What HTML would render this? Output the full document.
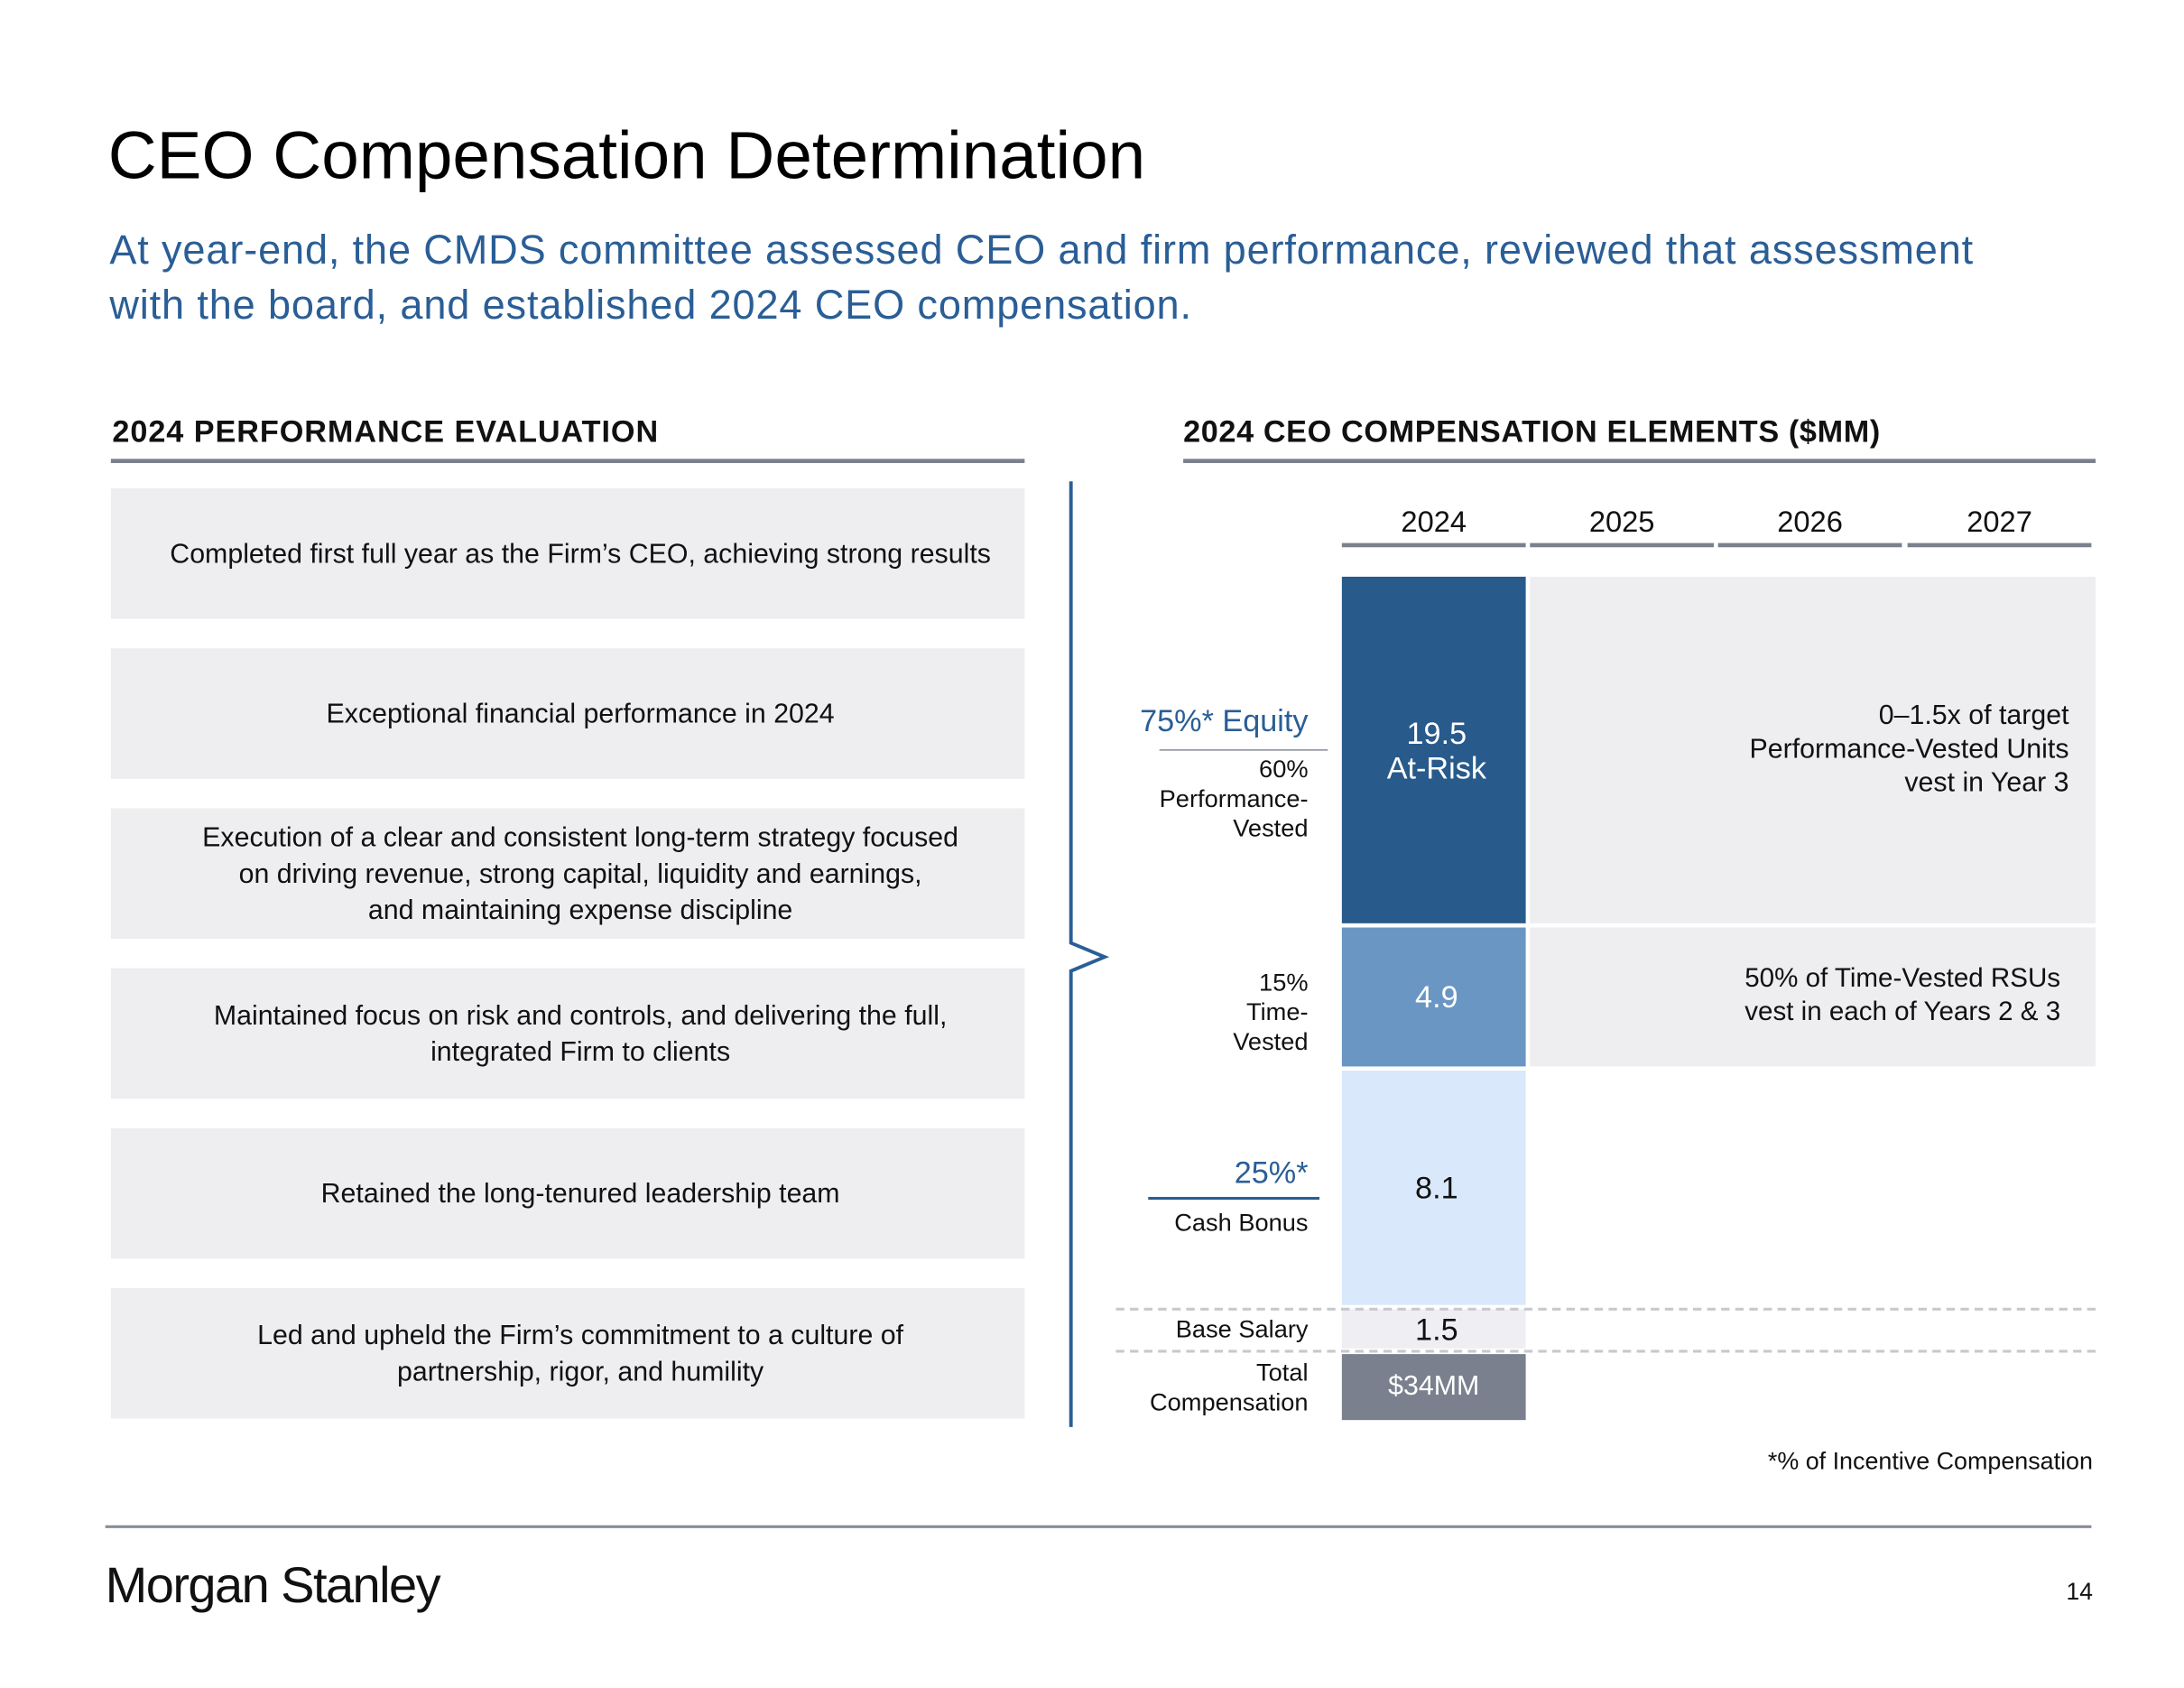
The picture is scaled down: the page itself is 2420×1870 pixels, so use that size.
<!DOCTYPE html>
<html><head><meta charset="utf-8"><style>
html,body{margin:0;padding:0;background:#fff;}
body{width:2420px;height:1870px;overflow:hidden;position:relative;font-family:"Liberation Sans",Arial,sans-serif;}
#s{position:absolute;left:0;top:0;width:1556px;height:1203px;transform:scale(1.5553,1.5545);transform-origin:0 0;}
.a{position:absolute;white-space:nowrap;}
.box{position:absolute;left:79px;width:633px;padding-left:18px;height:93px;background:#eeeef1;display:flex;align-items:center;justify-content:center;text-align:center;font-size:19.5px;line-height:26px;color:#111;}
.r{text-align:right;}
.c{text-align:center;}
</style></head><body>
<div id="s">
<div class="a" style="left:77px;top:84px;font-size:48px;line-height:56px;color:#000;">CEO Compensation Determination</div>
<div class="a" style="left:78px;top:160px;font-size:29px;line-height:39px;color:#2a5e96;letter-spacing:0.55px;">At year-end, the CMDS committee assessed CEO and firm performance, reviewed that assessment<br>with the board, and established 2024 CEO compensation.</div>

<div class="a" style="left:80px;top:295px;font-size:22px;line-height:26px;font-weight:bold;color:#111;letter-spacing:0.6px;">2024 PERFORMANCE EVALUATION</div>
<div class="a" style="left:79px;top:327px;width:651px;height:3px;background:#7a808c;"></div>
<div class="a" style="left:843px;top:295px;font-size:22px;line-height:26px;font-weight:bold;color:#111;letter-spacing:0.4px;">2024 CEO COMPENSATION ELEMENTS ($MM)</div>
<div class="a" style="left:843px;top:327px;width:650px;height:3px;background:#7a808c;"></div>

<div class="box" style="top:348px;">Completed first full year as the Firm’s CEO, achieving strong results</div>
<div class="box" style="top:462px;">Exceptional financial performance in 2024</div>
<div class="box" style="top:576px;">Execution of a clear and consistent long-term strategy focused<br>on driving revenue, strong capital, liquidity and earnings,<br>and maintaining expense discipline</div>
<div class="box" style="top:690px;">Maintained focus on risk and controls, and delivering the full,<br>integrated Firm to clients</div>
<div class="box" style="top:804px;">Retained the long-tenured leadership team</div>
<div class="box" style="top:918px;">Led and upheld the Firm’s commitment to a culture of<br>partnership, rigor, and humility</div>

<svg class="a" style="left:750px;top:340px;" width="50" height="680"><polyline points="13,3 13,332 37,342 13,352 13,677" fill="none" stroke="#2a5e96" stroke-width="2.5"/></svg>

<div id="chart"></div>

<div class="a r" style="left:1141px;width:350px;top:1031px;font-size:17.3px;line-height:20px;color:#111;">*% of Incentive Compensation</div>
<div class="a" style="left:75px;top:1087px;width:1415px;height:2px;background:#888c94;"></div>
<div class="a" style="left:75px;top:1109px;font-size:36px;line-height:42px;color:#111;letter-spacing:-1px;">Morgan Stanley</div>
<div class="a r" style="left:1441px;width:50px;top:1125px;font-size:17px;line-height:20px;color:#111;">14</div>
</div>
<script>
const years = ["2024","2025","2026","2027"];
const segmentNames = ["Performance-Vested","Time-Vested","Cash Bonus","Base Salary"];
const segmentValues = [19.5, 4.9, 8.1, 1.5];
const totalLabel = "$34MM";

const chart = document.getElementById('chart');
function el(tag, style, html){const d=document.createElement(tag);d.className='a';d.style.cssText=style;if(html!==undefined)d.innerHTML=html;chart.appendChild(d);return d;}

const colX = [956,1090,1224,1359], colW = 131;
years.forEach((y,i)=>{
  const t = el('div',`left:${colX[i]}px;width:${colW}px;top:361px;font-size:21px;line-height:24px;text-align:center;color:#111;`, y);
  
  
  const u = el('div',`left:${colX[i]}px;width:${colW}px;top:387px;height:3px;background:#7a808c;`);
  
  
});

const rowTops = [411, 661, 763, 933];
const rowBottoms = [658, 760, 930, 961];
const fills = ["#285a8c","#6a96c4","#d9e9fb","#efeff3"];
const txtCol = ["#fff","#fff","#111","#111"];
segmentValues.forEach((v,i)=>{
  const top=rowTops[i], h=rowBottoms[i]-top;
  const b = el('div',`left:956px;width:131px;top:${top}px;height:${h}px;background:${fills[i]};`);
  
  
  const lbl = i===0 ? v.toFixed(1)+'<br>At-Risk' : v.toFixed(1);
  const lh = 25, n = i===0?2:1;
  const t = el('div',`left:956px;width:135px;top:${top+h/2-lh*n/2}px;font-size:22px;line-height:${lh}px;text-align:center;color:${txtCol[i]};`, lbl);
  
  
});
const tot = el('div',`left:956px;width:131px;top:965px;height:47px;background:#7a808e;color:#fff;font-size:19.5px;line-height:47px;text-align:center;`, totalLabel);



const p1 = el('div','left:1090px;width:403px;top:411px;height:247px;background:#eeeef1;');


const p2 = el('div','left:1090px;width:403px;top:661px;height:99px;background:#eeeef1;');


const n1 = el('div','left:1124px;width:350px;top:498px;font-size:19.5px;line-height:24px;text-align:right;color:#111;','0–1.5x of target<br>Performance-Vested Units<br>vest in Year 3');


const n2 = el('div','left:1243px;top:686px;font-size:19px;line-height:24px;color:#111;','50% of Time-Vested RSUs<br>vest in each of Years 2 &amp; 3');



[932,962].forEach((y,i)=>{
  const d = el('div',`left:795px;width:698px;top:${y}px;height:0;border-top:2px dashed #c8c9ce;`);
  
  
});

function lab(name, html, top, size, color, lh){
  const t = el('div',`left:682px;width:250px;top:${top}px;font-size:${size}px;line-height:${lh}px;text-align:right;color:${color};`, html);
  
  
}
lab('equity-label','75%* Equity',501,22,'#2a5e96',26);
const eqr = el('div','left:826px;width:120px;top:534px;height:1px;background:#8a8f99;');


lab('performance-vested-label','60%<br>Performance-<br>Vested',538,17.5,'#111',21);
lab('time-vested-label','15%<br>Time-<br>Vested',690,17.5,'#111',21);
lab('cash-label','25%*',823,22,'#2a5e96',26);
const cr = el('div','left:818px;width:122px;top:853px;height:2px;background:#2a5e96;');


lab('cash-bonus-label','Cash Bonus',861,17.5,'#111',21);
lab('base-salary-label','Base Salary',937,17.5,'#111',21);
lab('total-compensation-label','Total<br>Compensation',968,17.5,'#111',21);
</script>
</body></html>
